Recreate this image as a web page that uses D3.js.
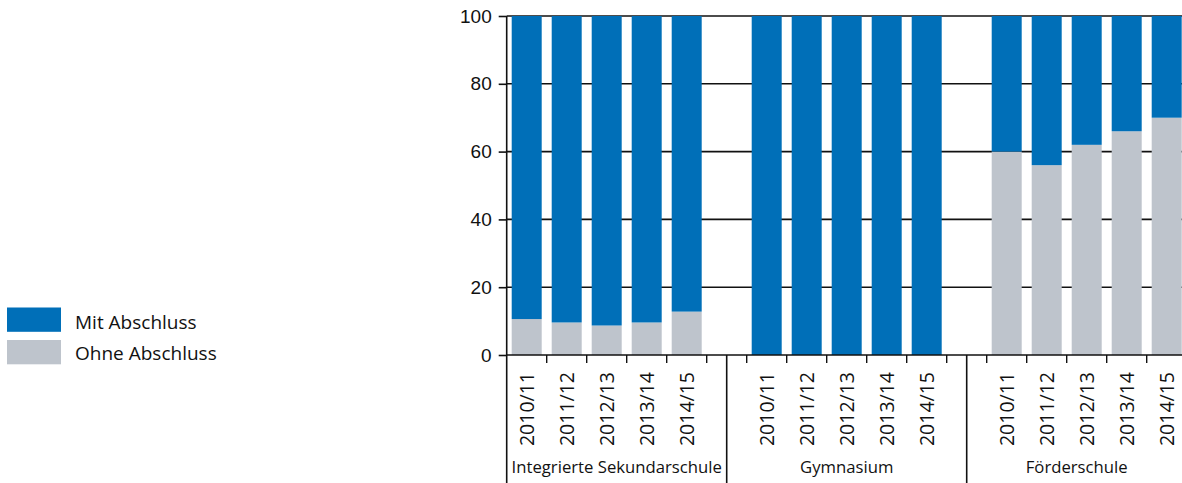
<!DOCTYPE html>
<html>
<head>
<meta charset="utf-8">
<script src="https://cdn.jsdelivr.net/npm/d3@7"></script>
<style>
  html, body { margin: 0; padding: 0; background: #fff; overflow: hidden; }
  svg { display: block; font-family: "Open Sans", "Noto Sans", sans-serif; }
</style>
</head>
<body>
<svg id="chart" width="1182" height="483"></svg>
<script>
// Schulabgänger nach Schulart: Anteil mit / ohne Abschluss (%)
const schularten = ["Integrierte Sekundarschule", "Gymnasium", "Förderschule"];
const schuljahre = ["2010/11", "2011/12", "2012/13", "2013/14", "2014/15"];
const ohneAbschluss = [
  [10.6, 9.6, 8.7, 9.6, 12.8],   // Integrierte Sekundarschule
  [0, 0, 0, 0, 0],               // Gymnasium
  [60, 56, 62, 66, 70]           // Förderschule
];
const mitAbschluss = ohneAbschluss.map(g => g.map(v => 100 - v));
const yTicks = [0, 20, 40, 60, 80, 100];
const seriesNames = ["Mit Abschluss", "Ohne Abschluss"];
const colors = { mit: "#006fb8", ohne: "#bec4cc" };

const svg = d3.select("#chart");
const plotLeft = 506.7, plotTop = 16, plotBottom = 355;

// Slots: five years per school type, with an empty slot between types
const slots = [];
schularten.forEach((s, gi) => {
  schuljahre.forEach(j => slots.push(s + "|" + j));
  if (gi < schularten.length - 1) slots.push("gap" + gi);
});
const x = d3.scaleBand().domain(slots)
  .range([plotLeft, plotLeft + slots.length * 40])
  .paddingInner(0.25).paddingOuter(0.125);
const step = x.step();
const slotStart = k => x(k) - step * 0.125;

const y = d3.scaleLinear().domain([0, 100]).range([plotBottom, plotTop]);

// Grid lines
svg.append("g").selectAll("line").data(yTicks.filter(d => d > 0)).join("line")
  .attr("x1", plotLeft).attr("x2", 1182)
  .attr("y1", d => y(d)).attr("y2", d => y(d))
  .attr("stroke", "#111").attr("stroke-width", 1.6);

// Stacked bars
const rows = [];
schularten.forEach((s, gi) => schuljahre.forEach((j, i) => {
  rows.push({ key: s + "|" + j, ohne: ohneAbschluss[gi][i], mit: mitAbschluss[gi][i] });
}));
const stack = d3.stack().keys(["ohne", "mit"])(rows);
svg.append("g").selectAll("g").data(stack).join("g")
  .attr("fill", d => colors[d.key])
  .selectAll("rect").data(d => d).join("rect")
  .attr("x", d => x(d.data.key))
  .attr("width", x.bandwidth())
  .attr("y", d => y(d[1]))
  .attr("height", d => y(d[0]) - y(d[1]));

// Y axis
const yAxis = svg.append("g").attr("transform", `translate(${plotLeft},0)`)
  .call(d3.axisLeft(y).tickValues(yTicks).tickSize(8).tickPadding(7));
yAxis.select(".domain").remove();
yAxis.selectAll(".tick line").attr("stroke", "#111").attr("stroke-width", 1.6);
yAxis.selectAll(".tick text").attr("font-size", 19).attr("fill", "#111");
svg.append("line").attr("x1", plotLeft).attr("x2", plotLeft).attr("y1", plotTop).attr("y2", 483)
  .attr("stroke", "#111").attr("stroke-width", 1.6);

// Baseline
svg.append("line").attr("x1", plotLeft).attr("x2", 1182).attr("y1", plotBottom).attr("y2", plotBottom)
  .attr("stroke", "#111").attr("stroke-width", 1.6);

// Slot boundary ticks below baseline
const boundaries = slots.slice(1).map(slotStart).concat([slotStart(slots[slots.length - 1]) + step]);
svg.append("g").selectAll("line").data(boundaries).join("line")
  .attr("x1", d => d).attr("x2", d => d)
  .attr("y1", plotBottom).attr("y2", plotBottom + 8)
  .attr("stroke", "#111").attr("stroke-width", 1.4);

// Separators between school types
const seps = slots.filter(k => k.startsWith("gap")).map(k => x(k) + x.bandwidth() / 2);
svg.append("g").selectAll("line").data(seps).join("line")
  .attr("x1", d => d).attr("x2", d => d)
  .attr("y1", plotBottom).attr("y2", 483)
  .attr("stroke", "#111").attr("stroke-width", 1.6);

// Year labels
svg.append("g").selectAll("text").data(rows).join("text")
  .attr("transform", d => `translate(${x(d.key) + x.bandwidth() / 2},372) rotate(-90)`)
  .attr("text-anchor", "end").attr("dy", "0.36em")
  .attr("font-size", 19.5).attr("fill", "#111")
  .text(d => d.key.split("|")[1]);

// School type labels
const bounds = [plotLeft].concat(seps).concat([plotLeft + slots.length * step]);
svg.append("g").selectAll("text").data(schularten).join("text")
  .attr("x", (d, i) => (bounds[i] + bounds[i + 1]) / 2)
  .attr("y", 473)
  .attr("text-anchor", "middle")
  .attr("font-size", 16.7).attr("fill", "#111")
  .text(d => d);

// Legend
const legend = svg.append("g");
const legendColors = [colors.mit, colors.ohne];
seriesNames.forEach((n, i) => {
  legend.append("rect").attr("x", 7).attr("y", 307.5 + i * 32.5)
    .attr("width", 54).attr("height", 24.3).attr("fill", legendColors[i]);
  legend.append("text").attr("x", 75).attr("y", 328.5 + i * 31)
    .attr("font-size", 19).attr("fill", "#111").text(n);
});
</script>
</body>
</html>
